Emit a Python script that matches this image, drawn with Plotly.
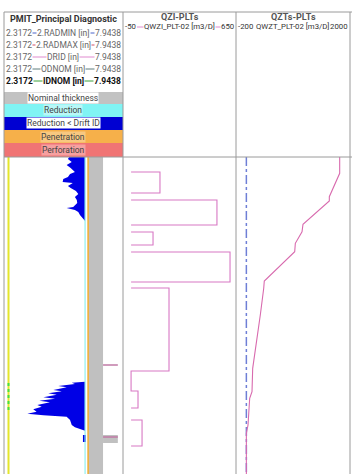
import plotly.graph_objects as go

W, H = 352, 474

# ---------------- data ----------------
# track ranges (from header)
t1_min, t1_max = 2.3172, 7.9438      # inches
t2_min, t2_max = -50, 650            # m3/D
t3_min, t3_max = -200, 2000          # m3/D

depth_top, depth_bot = 2157, 2474    # visible depth window (MD)

idnom = 6.276
odnom = 7.0
drid = 6.151
left_curve = 2.53                    # yellow curve at the left of track 1

# reduction < drift ID (upper zone)
blue1_depth = [2157, 2159, 2162, 2165, 2168, 2172, 2174, 2177, 2179, 2182, 2183,
               2186, 2188, 2191, 2194, 2197, 2200, 2203, 2207, 2208, 2210, 2212,
               2215, 2218, 2221]
blue1_val = [5.40, 5.34, 5.52, 5.28, 5.47, 5.67, 5.44, 5.34, 5.12, 5.09, 5.57,
             5.34, 5.47, 5.72, 5.83, 5.67, 5.76, 5.78, 5.59, 5.28, 5.67, 5.83,
             5.91, 6.01, 6.15]
# reduction < drift ID (lower zone)
blue2_depth = [2381.7, 2382.7, 2384, 2386, 2387.3, 2390, 2391.3, 2393.3, 2394.7,
               2397.3, 2398.7, 2400.7, 2402.3, 2405, 2406.7, 2409.3, 2411.7,
               2413.7, 2415.3, 2416.7, 2420, 2425, 2427.3, 2429.3, 2430.7]
blue2_val = [6.15, 5.52, 5.67, 4.88, 5.28, 4.65, 5.05, 4.41, 4.81, 4.18, 4.73,
             3.99, 4.49, 3.89, 4.10, 3.70, 3.86, 3.42, 4.18, 5.28, 5.44, 5.52,
             5.67, 5.91, 6.07]
blue3_depth = [2435, 2442]
blue3_val = [6.05, 6.19]

green_depth = [2383, 2413]           # green (IDNOM) marks on the left curve
perf_depth = [2365, 2437]
perf_val = [7.0, 7.7]
grey_ext_depth = [2435, 2443]

# QWZI_PLT-02 injection profile (boxes)
qzi_top = [2172, 2200, 2232, 2252, 2288, 2391, 2420]
qzi_bot = [2193, 2225, 2245, 2282, 2371, 2408, 2446]
qzi_val = [179, 532, 136, 613, 235, 43, 68]

# QWZT_PLT-02 cumulative
qzt_depth = [2157, 2173.3, 2196.7, 2201, 2224.3, 2231.7, 2243.3, 2251.7, 2281,
             2288.3, 2315, 2368.3, 2391.7, 2398.3, 2425, 2433.3, 2474]
qzt_val = [1801, 1801, 1601, 1601, 1093, 1074, 945, 933, 346, 335, 269, 122,
           109, 64, 32, 0, 0]

# ---------------- figure ----------------
fig = go.Figure()
T, B = depth_top, depth_bot

# grey nominal thickness band
fig.add_trace(go.Scatter(x=[idnom, odnom, odnom, idnom], y=[T, T, B, B],
                         fill="toself", fillcolor="#C0C0C0", line=dict(width=0),
                         mode="lines", xaxis="x", yaxis="y", hoverinfo="skip"))
fig.add_trace(go.Scatter(x=[odnom, perf_val[1], perf_val[1], odnom],
                         y=[grey_ext_depth[0], grey_ext_depth[0], grey_ext_depth[1], grey_ext_depth[1]],
                         fill="toself", fillcolor="#C0C0C0", line=dict(width=0),
                         mode="lines", xaxis="x", yaxis="y", hoverinfo="skip"))
# blue fills
for dd, vv in [(blue1_depth, blue1_val), (blue2_depth, blue2_val)]:
    fig.add_trace(go.Scatter(x=vv + [drid, drid], y=dd + [dd[-1], dd[0]],
                             fill="toself", fillcolor="#0000E6", line=dict(width=0),
                             mode="lines", xaxis="x", yaxis="y", hoverinfo="skip"))
fig.add_trace(go.Scatter(x=[blue3_val[0], blue3_val[1], blue3_val[1], blue3_val[0]],
                         y=[blue3_depth[0], blue3_depth[0], blue3_depth[1], blue3_depth[1]],
                         fill="toself", fillcolor="#0000E6", line=dict(width=0),
                         mode="lines", xaxis="x", yaxis="y", hoverinfo="skip"))
# drift ID (cyan) and IDNOM (orange)
fig.add_trace(go.Scatter(x=[drid, drid], y=[T, B], mode="lines",
                         line=dict(color="#8FF0F0", width=1.2), xaxis="x", yaxis="y"))
fig.add_trace(go.Scatter(x=[idnom + 0.02, idnom + 0.02], y=[T, B], mode="lines",
                         line=dict(color="#F2B23C", width=1.6), xaxis="x", yaxis="y"))
# yellow curve on the left + green marks
fig.add_trace(go.Scatter(x=[left_curve, left_curve], y=[T, B], mode="lines",
                         line=dict(color="#E4E62C", width=2), xaxis="x", yaxis="y"))
fig.add_trace(go.Scatter(x=[left_curve, left_curve], y=green_depth, mode="lines",
                         line=dict(color="#44E044", width=2, dash="dot"), xaxis="x", yaxis="y"))
# perforations
for d in perf_depth:
    fig.add_trace(go.Scatter(x=perf_val, y=[d, d], mode="lines",
                             line=dict(color="#C07AA6", width=1.5), xaxis="x", yaxis="y"))

# QZI boxes
qx, qy = [], []
for i, (t, b, v) in enumerate(zip(qzi_top, qzi_bot, qzi_val)):
    qx += [0, v, v, 0]
    qy += [t, t, b, b]
    if i == 4:   # zero segment connecting to next box
        continue
    qx.append(None)
    qy.append(None)
fig.add_trace(go.Scatter(x=qx, y=qy, mode="lines", connectgaps=False,
                         line=dict(color="#D878C4", width=1.1), xaxis="x2", yaxis="y"))

# QZT
fig.add_trace(go.Scatter(x=[0, 0], y=[T, B], mode="lines",
                         line=dict(color="#6F7FD6", width=1.5, dash="dashdot"),
                         xaxis="x3", yaxis="y"))
fig.add_trace(go.Scatter(x=qzt_val, y=qzt_depth, mode="lines",
                         line=dict(color="#D86AAE", width=1.1), xaxis="x3", yaxis="y"))

# ---------------- layout / header ----------------
def px(x):
    return x / W

def py(y):
    return 1 - y / H

y_dom_top = py(157)
fig.update_layout(
    width=W, height=H, margin=dict(l=0, r=0, t=0, b=0),
    paper_bgcolor="white", plot_bgcolor="white", showlegend=False,
    xaxis=dict(domain=[px(4), px(123)], range=[t1_min, t1_max], visible=False, anchor="y"),
    xaxis2=dict(domain=[px(123), px(236)], range=[t2_min, t2_max], visible=False, anchor="y"),
    xaxis3=dict(domain=[px(236), px(350)], range=[t3_min, t3_max], visible=False, anchor="y"),
    yaxis=dict(domain=[0, y_dom_top], range=[B, T], visible=False),
)

shapes = []
ann = []
FONT = "Roboto, Lato, Liberation Sans, sans-serif"
FRAME = "#9A9A9A"

# frame lines
for x in [4, 123, 236, 350]:
    shapes.append(dict(type="line", xref="paper", yref="paper", x0=px(x), x1=px(x),
                       y0=py(12), y1=0, line=dict(color=FRAME, width=1)))
shapes.append(dict(type="line", xref="paper", yref="paper", x0=px(4), x1=1,
                   y0=py(12), y1=py(12), line=dict(color=FRAME, width=1)))
shapes.append(dict(type="line", xref="paper", yref="paper", x0=px(4), x1=1,
                   y0=py(157), y1=py(157), line=dict(color=FRAME, width=1)))

def text(x, y, s, size=8.5, color="#555555", bold=False, xanchor="center", bg=None):
    a = dict(xref="paper", yref="paper", x=px(x), y=py(y), text=("<b>%s</b>" % s) if bold else s,
             showarrow=False, xanchor=xanchor, yanchor="middle",
             font=dict(family=FONT, size=size, color=color), borderpad=0)
    if bg:
        a["bgcolor"] = bg
    ann.append(a)

# track 1 header
text(63, 19, "PMIT_Principal Diagnostic", size=9, color="#333333", bold=True)
rows = [
    ("2.RADMIN [in]", "#4A62C8", "#666666", False),
    ("2.RADMAX [in]", "#D0506A", "#666666", False),
    ("DRID [in]", "#E08ACF", "#666666", False),
    ("ODNOM [in]", "#5E7C7C", "#666666", False),
    ("IDNOM [in]", "#3AA03A", "#111111", True),
]
for i, (lab, lc, tc, bold) in enumerate(rows):
    y = 33 + i * 12
    shapes.append(dict(type="line", xref="paper", yref="paper", x0=px(28), x1=px(98),
                       y0=py(y), y1=py(y), line=dict(color=lc, width=1)))
    text(4.5, y, "2.3172", color=tc, bold=bold, xanchor="left", bg="white")
    text(122, y, "7.9438", color=tc, bold=bold, xanchor="right", bg="white")
    text(63, y, lab, color=tc, bold=bold, bg="white")

bands = [
    (92, 104, "#C2C2C2", "Nominal thickness", "#FFFFFF"),
    (104, 117, "#80F4F4", "Reduction", "#B8F8F8"),
    (117, 130, "#0000D2", "Reduction < Drift ID", "#FFFFFF"),
    (130, 143, "#F6B04A", "Penetration", "#F8C880"),
    (143, 157, "#F07474", "Perforation", "#F6A0A0"),
]
for y0, y1, col, lab, bg in bands:
    shapes.append(dict(type="rect", xref="paper", yref="paper", x0=px(4), x1=px(123),
                       y0=py(y1), y1=py(y0), fillcolor=col, line=dict(width=0), layer="below"))
    text(63, (y0 + y1) / 2, lab, color="#444444", bg=bg)

# track 2 header
HC = "#333333"
HS = 7.8
text(180, 17, "QZI-PLTs", size=9, color="#555555", bold=True)
shapes.append(dict(type="line", xref="paper", yref="paper", x0=px(137), x1=px(222),
                   y0=py(27), y1=py(27), line=dict(color="#E08ACF", width=1)))
text(124, 27, "-50", size=HS, color=HC, xanchor="left", bg="white")
text(235, 27, "650", size=HS, color=HC, xanchor="right", bg="white")
text(179, 27, "QWZI_PLT-02 [m3/D]", size=HS, color=HC, bg="white")

# track 3 header
text(293, 17, "QZTs-PLTs", size=9, color="#555555", bold=True)
text(237, 27, "-200", size=HS, color=HC, xanchor="left", bg="white")
text(349, 27, "2000", size=HS, color=HC, xanchor="right", bg="white")
text(292, 27, "QWZT_PLT-02 [m3/D]", size=HS, color=HC, bg="white")

fig.update_layout(shapes=shapes, annotations=ann)
fig.write_html("out.html", config={"displayModeBar": False},
               post_script="document.body.style.margin='0';")
